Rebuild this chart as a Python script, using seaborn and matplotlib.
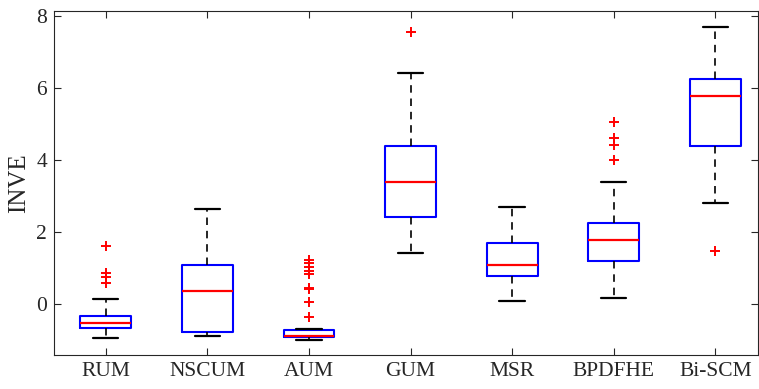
import matplotlib
matplotlib.use("Agg")
import matplotlib.pyplot as plt
import pandas as pd
import seaborn as sns

# box statistics
categories = ["RUM", "NSCUM", "AUM", "GUM", "MSR", "BPDFHE", "Bi-SCM"]
whislo = [-0.94, -0.88, -1.00, 1.42, 0.09, 0.17, 2.81]
q1 = [-0.65, -0.78, -0.92, 2.41, 0.78, 1.20, 4.39]
medians = [-0.52, 0.36, -0.89, 3.39, 1.09, 1.78, 5.79]
q3 = [-0.32, 1.10, -0.72, 4.39, 1.70, 2.26, 6.25]
whishi = [0.15, 2.63, -0.68, 6.41, 2.69, 3.39, 7.71]
fliers = {
    "RUM": [1.61, 0.87, 0.76, 0.59],
    "NSCUM": [],
    "AUM": [1.24, 1.13, 1.03, 0.92, 0.83, 0.46, 0.41, 0.06, -0.35],
    "GUM": [7.57],
    "MSR": [],
    "BPDFHE": [5.05, 4.62, 4.43, 3.99],
    "Bi-SCM": [1.48],
}

sns.set_style("ticks")
plt.rcParams["font.family"] = ["Liberation Serif", "DejaVu Serif"]

fig = plt.figure(figsize=(7.59, 3.89), dpi=100)
ax = fig.add_axes([0.0711, 0.0866, 0.9276, 0.8859])

stats = []
for i, name in enumerate(categories):
    stats.append({"label": name, "whislo": whislo[i], "q1": q1[i], "med": medians[i],
                  "q3": q3[i], "whishi": whishi[i], "fliers": []})

ax.bxp(stats, positions=range(len(categories)), widths=0.5, capwidths=0.25,
       showfliers=False, patch_artist=False,
       boxprops=dict(color="#0000ff", linewidth=1.5),
       medianprops=dict(color="#ff0000", linewidth=1.6),
       whiskerprops=dict(color="black", linestyle=(0, (4.5, 3.5)), linewidth=1.2),
       capprops=dict(color="black", linewidth=1.6))

rows = [(categories.index(k), v) for k, vals in fliers.items() for v in vals]
flier_df = pd.DataFrame(rows, columns=["pos", "value"])
sns.scatterplot(data=flier_df, x="pos", y="value", marker="+", color="#ff0000",
                s=45, linewidth=1.4, ax=ax, legend=False, zorder=3)

ax.set_xlim(-0.51, 6.42)
ax.set_ylim(-1.42, 8.15)
ax.set_xticks(range(len(categories)))
ax.set_xticklabels(categories)
ax.set_yticks([0, 2, 4, 6, 8])
ax.set_xlabel("")
ax.set_ylabel("INVE", fontsize=18, color="#262626", labelpad=4)
ax.tick_params(direction="in", top=True, right=True, length=5, width=0.8,
               labelsize=15.5, colors="#262626", pad=5)
for s in ax.spines.values():
    s.set_color("#262626")
    s.set_linewidth(0.8)

fig.savefig("out.png", dpi=100)
